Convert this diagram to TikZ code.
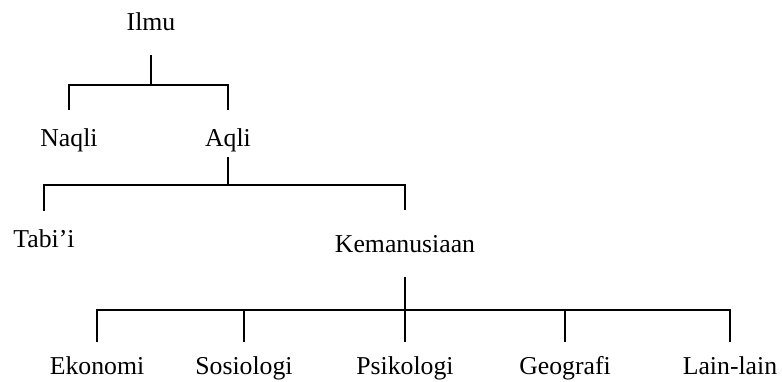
\documentclass[tikz,border=0pt]{standalone}
\usepackage{fontspec}
\setmainfont{Liberation Serif}
\usetikzlibrary{positioning}

\begin{document}
\begin{tikzpicture}[
  mylabel/.style={font=\fontsize{19.3}{23}\selectfont, inner xsep=0pt, inner ysep=14pt, text height=13.1pt, text depth=4.2pt},
  mybranch/.style={to path={-| (\tikztotarget)}},
  on grid,
 ]
\useasboundingbox (0,0) rectangle (586.5pt,-286.5pt);

\node[mylabel] (Ilmu) at (113.25pt,-18.1pt) {Ilmu};
\coordinate[below=45.7pt of Ilmu] (J1);
\node[mylabel, below=41.3pt of J1, anchor=center, xshift=-61.5pt] (Naqli) {Naqli};
\node[mylabel, below=41.3pt of J1, anchor=center, xshift=57.75pt] (Aqli) {Aqli};

\coordinate[below=33.7pt of Aqli] (J2);
\node[mylabel, below=42.1pt of J2, anchor=center, xshift=-138pt] (Tabii) {Tabi’i};
\node[mylabel, below=45.8pt of J2, anchor=center, xshift=132.75pt] (Kem) {Kemanusiaan};

\coordinate[below=47.9pt of Kem] (J3);
\node[mylabel, below=43.6pt of J3, anchor=center] (Psikologi) {Psikologi};
\node[mylabel, left=120.75pt of Psikologi] (Sosiologi) {Sosiologi};
\node[mylabel, left=231pt of Psikologi] (Ekonomi) {Ekonomi};
\node[mylabel, right=120pt of Psikologi] (Geografi) {Geografi};
\node[mylabel, right=243.75pt of Psikologi] (Lain) {Lain-lain};

\path[line width=1.4pt]
(Ilmu) edge (J1)
(J1) edge[mybranch] (Naqli)
(J1) edge[mybranch] (Aqli)
(Aqli) edge[shorten <=-10pt] (J2)
(J2) edge[mybranch] (Tabii)
(J2) edge[mybranch, shorten >=4pt] (Kem)
(Kem) edge (J3)
(J3) edge[mybranch, shorten >=-3pt] (Ekonomi)
(J3) edge[mybranch, shorten >=-3pt] (Sosiologi)
(J3) edge[mybranch, shorten >=-3pt] (Psikologi)
(J3) edge[mybranch, shorten >=-3pt] (Geografi)
(J3) edge[mybranch, shorten >=-3pt] (Lain);

\end{tikzpicture}
\end{document}
